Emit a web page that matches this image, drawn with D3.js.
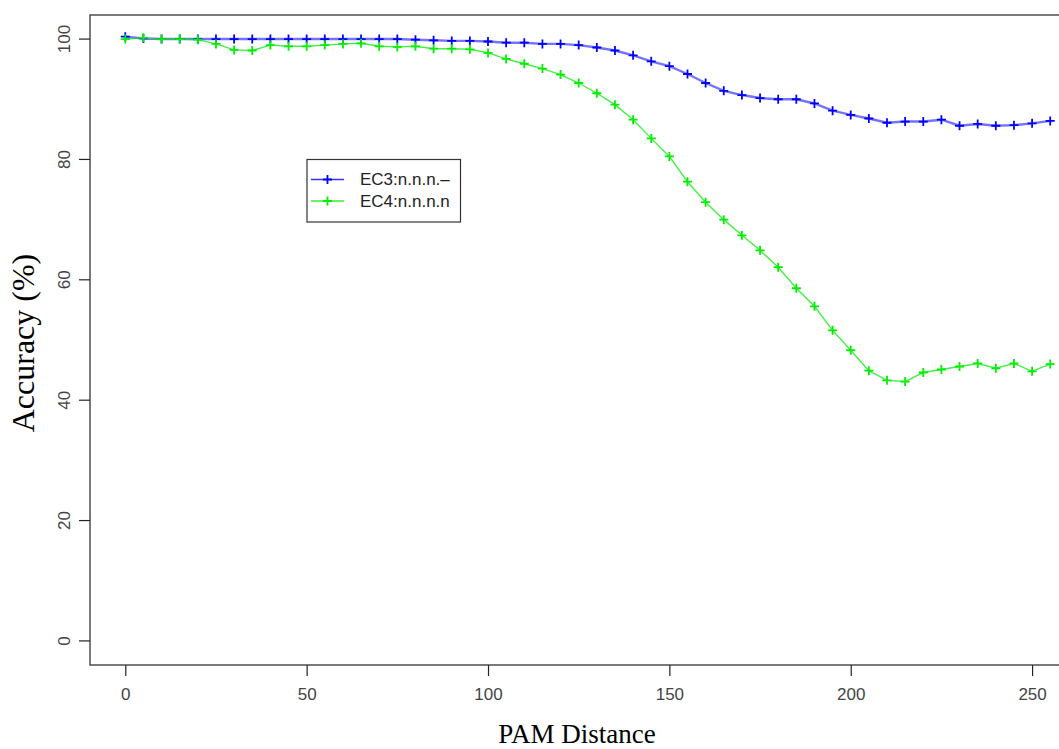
<!DOCTYPE html>
<html>
<head>
<meta charset="utf-8">
<script src="https://cdn.jsdelivr.net/npm/d3@7"></script>
<style>
  html, body { margin: 0; padding: 0; background: #fff; overflow: hidden; }
  svg { display: block; }
</style>
</head>
<body>
<svg id="chart" width="1059" height="749"></svg>
<script>
// PAM distance samples (x values)
const pamDistance = [0,5,10,15,20,25,30,35,40,45,50,55,60,65,70,75,80,85,90,95,
  100,105,110,115,120,125,130,135,140,145,150,155,160,165,170,175,180,185,190,195,
  200,205,210,215,220,225,230,235,240,245,250,255];

// Accuracy (%) per series
const ec3Accuracy = [100.4,100.1,100.0,100.0,100.0,100.0,100.0,100.0,100.0,100.0,
  100.0,100.0,100.0,100.0,100.0,100.0,99.9,99.8,99.7,99.7,
  99.6,99.4,99.4,99.2,99.2,99.0,98.6,98.1,97.3,96.3,
  95.5,94.2,92.7,91.4,90.7,90.2,90.0,90.0,89.3,88.1,
  87.4,86.8,86.1,86.3,86.3,86.6,85.6,85.9,85.6,85.7,86.0,86.4];

const ec4Accuracy = [100.0,100.2,100.0,100.0,99.9,99.2,98.2,98.1,99.0,98.8,
  98.8,99.0,99.2,99.3,98.8,98.7,98.8,98.4,98.4,98.3,
  97.7,96.7,95.9,95.1,94.1,92.7,91.0,89.1,86.6,83.5,
  80.5,76.3,72.9,70.0,67.4,64.9,62.1,58.6,55.6,51.6,
  48.3,44.9,43.3,43.1,44.6,45.1,45.6,46.1,45.3,46.1,44.8,46.0];

const seriesNames = ["EC3:n.n.n.\u2013", "EC4:n.n.n.n"];
const seriesColors = ["#0000ff", "#00ee00"];
const xTicks = [0, 50, 100, 150, 200, 250];
const yTicks = [0, 20, 40, 60, 80, 100];

const svg = d3.select("#chart");

// plot region
const plotLeft = 90, plotRight = 1064, plotTop = 15, plotBottom = 665;
const x = d3.scaleLinear().domain([-9.73, 258.8]).range([plotLeft, plotRight]);
const y = d3.scaleLinear().domain([-4, 104]).range([plotBottom, plotTop]);

const sans = "Liberation Sans, Arial, sans-serif";
const serif = "Liberation Serif, Times New Roman, serif";

// axes
const xAxis = d3.axisBottom(x).tickValues(xTicks).tickSize(11).tickPadding(12);
const gx = svg.append("g").attr("transform", `translate(0,${plotBottom})`).call(xAxis);
gx.select(".domain").remove();
gx.selectAll("line").attr("stroke", "#222").attr("stroke-width", 1.2);
gx.selectAll("text").attr("font-family", sans).attr("font-size", 17).attr("fill", "#444");

const yAxis = d3.axisLeft(y).tickValues(yTicks).tickSize(11).tickPadding(0);
const gy = svg.append("g").attr("transform", `translate(${plotLeft},0)`).call(yAxis);
gy.select(".domain").remove();
gy.selectAll("line").attr("stroke", "#222").attr("stroke-width", 1.2);
gy.selectAll(".tick").attr("transform", null);
gy.selectAll(".tick line").attr("y1", d => y(d)).attr("y2", d => y(d));
gy.selectAll(".tick text")
  .attr("font-family", sans).attr("font-size", 17).attr("fill", "#444")
  .attr("x", null).attr("dy", null).attr("y", null)
  .attr("text-anchor", "middle")
  .attr("transform", d => `translate(-26,${y(d)}) rotate(-90)`)
  .attr("dy", "0.35em");

// series lines and markers
const series = [ec3Accuracy, ec4Accuracy];
const line = d3.line().x((d, i) => x(pamDistance[i])).y(d => y(d));

const plot = svg.append("g");
series.forEach((vals, s) => {
  plot.append("path")
    .datum(vals)
    .attr("fill", "none")
    .attr("stroke", seriesColors[s])
    .attr("stroke-opacity", s === 0 ? 0.55 : 0.75)
    .attr("stroke-width", s === 0 ? 2.4 : 1.4)
    .attr("d", line);
});

function plus(g, cx, cy, color, r) {
  g.append("path")
    .attr("d", `M${cx - r},${cy}H${cx + r}M${cx},${cy - r}V${cy + r}`)
    .attr("stroke", color).attr("stroke-width", 1.8).attr("fill", "none");
}
series.forEach((vals, s) => {
  const g = plot.append("g");
  vals.forEach((v, i) => plus(g, x(pamDistance[i]), y(v), seriesColors[s], 4.5));
});

// plot frame
svg.append("rect")
  .attr("x", plotLeft).attr("y", plotTop)
  .attr("width", plotRight - plotLeft).attr("height", plotBottom - plotTop)
  .attr("fill", "none").attr("stroke", "#333").attr("stroke-width", 1.3);

// legend
const lg = svg.append("g");
lg.append("rect").attr("x", 307).attr("y", 159.5).attr("width", 153.5).attr("height", 62.5)
  .attr("fill", "#fff").attr("stroke", "#333").attr("stroke-width", 1.2);
seriesNames.forEach((name, s) => {
  const ly = 179.5 + s * 21.5;
  lg.append("line").attr("x1", 311).attr("x2", 344).attr("y1", ly).attr("y2", ly)
    .attr("stroke", seriesColors[s]).attr("stroke-width", 1.6).attr("stroke-opacity", 0.8);
  plus(lg, 327.5, ly, seriesColors[s], 4.5);
  lg.append("text").attr("x", 360).attr("y", ly).attr("dy", "0.35em")
    .attr("font-family", sans).attr("font-size", 17).attr("fill", "#222")
    .text(name);
});

// axis titles
svg.append("text")
  .attr("x", (plotLeft + plotRight) / 2).attr("y", 743)
  .attr("text-anchor", "middle")
  .attr("font-family", serif).attr("font-size", 27).attr("fill", "#000")
  .text("PAM Distance");

svg.append("text")
  .attr("transform", `translate(34,343) rotate(-90)`)
  .attr("text-anchor", "middle")
  .attr("font-family", serif).attr("font-size", 32).attr("fill", "#000")
  .text("Accuracy (%)");
</script>
</body>
</html>
